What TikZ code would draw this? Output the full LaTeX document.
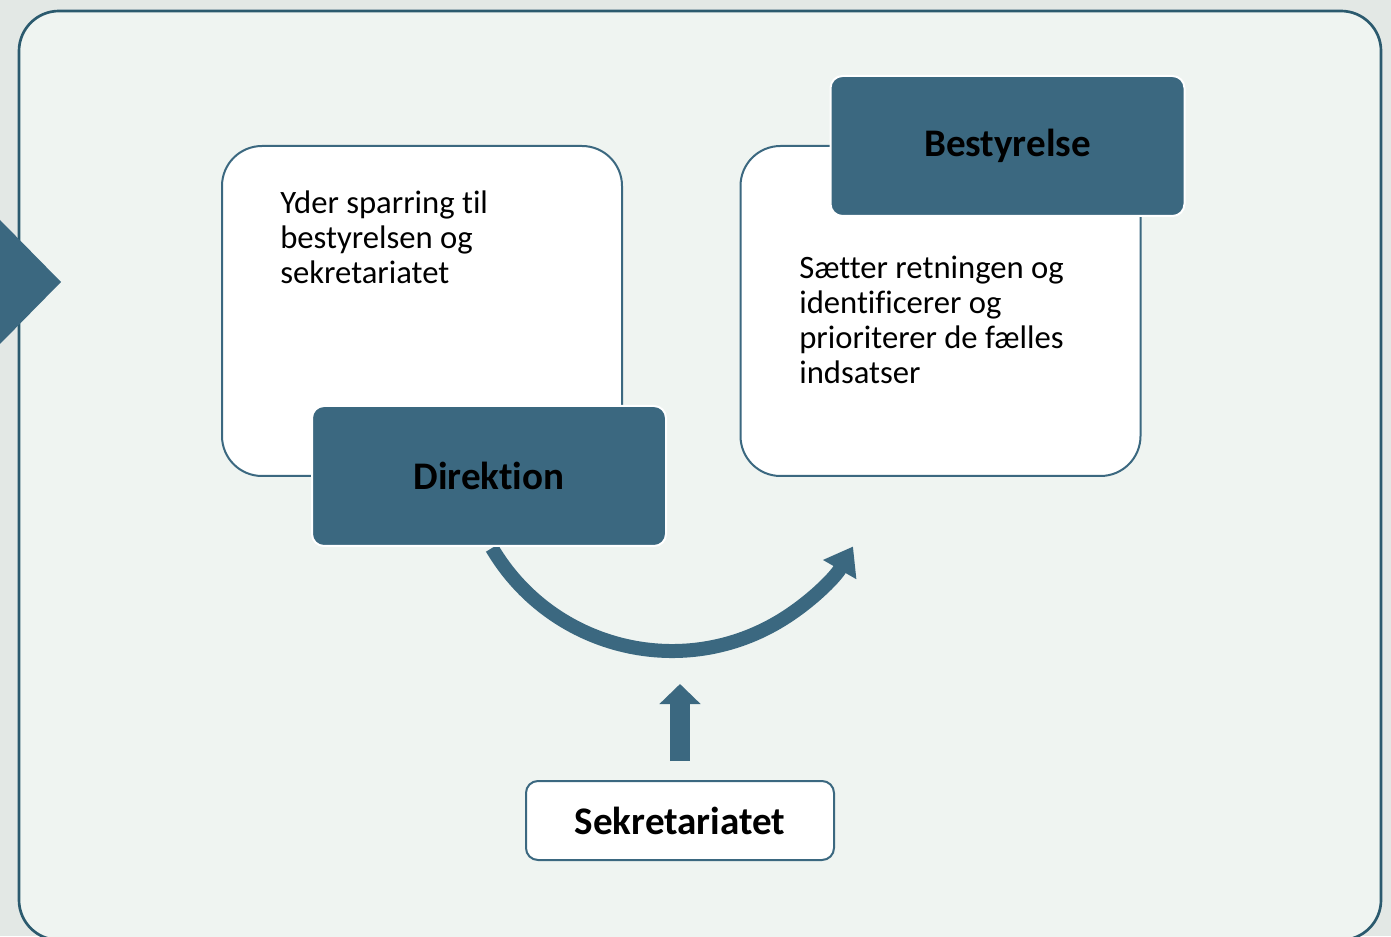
\documentclass[tikz,border=0pt]{standalone}
\usepackage{fontspec}
\setmainfont{Carlito}[Ligatures=NoCommon]
\usetikzlibrary{arrows.meta}
\definecolor{bleu}{HTML}{3B6880}
\definecolor{cadre}{HTML}{2B5A6E}
\definecolor{fond}{HTML}{EFF4F1}
\definecolor{marge}{HTML}{E3E8E5}
\begin{document}
\begin{tikzpicture}[x=0.75pt,y=0.75pt,
	boite/.style={draw=bleu, line width=1.5pt, fill=white, rounded corners=30pt, minimum width=300pt, minimum height=247.5pt},
	titre/.style={draw=white, line width=1.5pt, fill=bleu, rounded corners=9pt, minimum width=265.5pt, minimum height=105pt, font=\fontsize{29.3}{34}\selectfont\bfseries},
	texte/.style={anchor=north west, inner sep=0pt, align=left, font=\fontsize{24.5}{26.25}\selectfont}]
		% Fond et cadre
		\useasboundingbox (0,0) rectangle (1391,936);
		\fill[marge] (0,0) rectangle (1391,936);
		\draw[cadre, fill=fond, line width=2pt, rounded corners=30pt] (19,-4) rectangle (1381,925);
		\fill[bleu] (0,716) -- (61,654) -- (0,592) -- cycle;
		
		% Boîtes blanches
		\node[boite] (sparring) at (422,625) {};
		\node[boite] (retning) at (940.5,625) {};
		\node[texte] (txtA) at (280,745) {Yder sparring til\\bestyrelsen og\\sekretariatet};
		\node[texte] (txtB) at (799,680) {Sætter retningen og\\identificerer og\\prioriterer de fælles\\indsatser};
		
		% Flèche courbe
		\coordinate (centre) at (672,494);
		\draw[bleu, line width=10.5pt, -{Triangle[length=20pt,width=27.5pt]}] (centre) ++(210.5:156.75pt) arc[start angle=210.5, end angle=330, radius=156.75pt];
		
		% Titres
		\node[titre] (direktion) at (489,460) {Direktion};
		\node[titre] (bestyrelse) at (1007.5,790) {Bestyrelse};
		\node[titre, fill=white, draw=bleu, minimum width=231pt, minimum height=59.25pt] (sekretariatet) at (680,115.5) {Sekretariatet};
		
		% Flèche droite
		\coordinate (pied) at ([yshift=14.25pt]sekretariatet.north);
		\coordinate (pointe) at (680,252);
		\draw[bleu, line width=15pt, -{Triangle[length=15pt,width=30pt]}] (pied) -- (pointe);
	\end{tikzpicture}
\end{document}
